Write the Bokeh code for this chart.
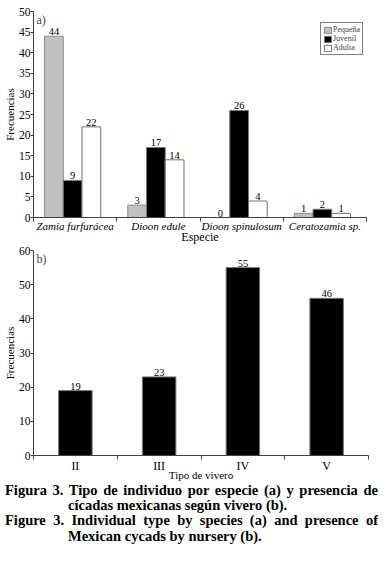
import numpy as np
from bokeh.plotting import figure
from bokeh.models import ColumnDataSource, Range1d, FixedTicker, Legend, LegendItem, Label, Div
from bokeh.layouts import column
from bokeh.embed import file_html
from bokeh.resources import INLINE
from bokeh.core.properties import value

# ---- data (a) ----
species = ["Zamia furfurácea", "Dioon edule", "Dioon spinulosum", "Ceratozamia sp."]
pequena = [44, 3, 0, 1]
juvenil = [9, 17, 26, 2]
adulta = [22, 14, 4, 1]
stage_names = ["Pequeña", "Juvenil", "Adulta"]
a_ticks = [0, 5, 10, 15, 20, 25, 30, 35, 40, 45, 50]

# ---- data (b) ----
nurseries = ["II", "III", "IV", "V"]
nursery_counts = [19, 23, 55, 46]
b_ticks = [0, 10, 20, 30, 40, 50, 60]

caption_es = ("Figura 3. Tipo de individuo por especie (a) y presencia de "
              "cícadas mexicanas según vivero (b).")
caption_en = ("Figure 3. Individual type by species (a) and presence of "
              "Mexican cycads by nursery (b).")

SERIF = "Liberation Serif"
AXIS_COL = "#404040"


def style_axes(p, label_standoff, title_standoff):
    p.xgrid.visible = False
    p.ygrid.visible = False
    p.outline_line_color = None
    p.background_fill_color = "white"
    p.border_fill_color = "white"
    for ax in (p.xaxis[0], p.yaxis[0]):
        ax.axis_line_color = AXIS_COL
        ax.major_tick_line_color = AXIS_COL
        ax.minor_tick_line_color = AXIS_COL
        ax.major_label_text_font = SERIF
        ax.major_label_text_color = "black"
        ax.axis_label_text_font = SERIF
        ax.axis_label_text_font_style = "normal"
        ax.axis_label_text_color = "black"
    xa = p.xaxis[0]
    xa.major_tick_in = 0
    xa.major_tick_out = 0
    xa.minor_tick_in = 0
    xa.minor_tick_out = 4
    xa.major_label_standoff = label_standoff
    xa.axis_label_standoff = title_standoff
    ya = p.yaxis[0]
    ya.major_tick_in = 0
    ya.major_tick_out = 3
    ya.minor_tick_out = 0
    ya.minor_tick_in = 0
    ya.major_label_standoff = 0
    ya.axis_label_standoff = 0
    ya.major_label_text_font_size = "11.5px"
    ya.axis_label_text_font_size = "11px"


# ================= chart (a) =================
centers_a = np.arange(len(species)) + 0.5
pa = figure(output_backend="svg", toolbar_location=None,
            frame_width=333, frame_height=206,
            x_range=Range1d(0, len(species)), y_range=Range1d(0, a_ticks[-1]),
            min_border_left=33, min_border_right=7, min_border_top=11, min_border_bottom=0)
style_axes(pa, -2, -5)

w = 0.225
shift = -0.03
fills = ["#c0c0c0", "black", "white"]
lines = ["#8a8a8a", "#7a7a7a", "#707070"]
items = []
for k, (name, vals) in enumerate(zip(stage_names, [pequena, juvenil, adulta])):
    xs = centers_a + (k - 1) * w + shift
    src = ColumnDataSource(dict(x=xs, top=vals, label=[str(v) for v in vals]))
    r = pa.vbar(x="x", top="top", width=w, bottom=0, fill_color=fills[k],
                line_color=lines[k], line_width=1, source=src)
    pa.text(x="x", y="top", text="label", source=src, text_align="center",
            text_baseline="bottom", y_offset=-1, text_font=value(SERIF),
            text_font_size="10.5px", text_color="black")
    items.append(LegendItem(label=name, renderers=[r]))

legend = Legend(items=items, location=(287, 162), label_text_font=SERIF,
                label_text_font_size="8px", glyph_width=9, glyph_height=8,
                label_height=8, label_standoff=1, spacing=0, padding=2, margin=0,
                border_line_color="black", border_line_width=1.2,
                background_fill_color="white", background_fill_alpha=1.0)
pa.add_layout(legend)

pa.xaxis[0].ticker = FixedTicker(ticks=list(centers_a),
                                 minor_ticks=list(range(len(species) + 1)))
pa.xaxis[0].major_label_overrides = {float(c): s for c, s in zip(centers_a, species)}
pa.xaxis[0].major_label_text_font_style = "italic"
pa.xaxis[0].major_label_text_font_size = "11px"
pa.xaxis[0].axis_label = "Especie"
pa.xaxis[0].axis_label_text_font_size = "12px"
pa.yaxis[0].ticker = FixedTicker(ticks=a_ticks)
pa.yaxis[0].axis_label = "Frecuencias"
pa.add_layout(Label(x=0, y=a_ticks[-1], x_offset=3, y_offset=-1, text="a)",
                    text_baseline="top", text_font=SERIF, text_font_size="12px"))

# ================= chart (b) =================
centers_b = np.arange(len(nurseries)) + 0.5
pb = figure(output_backend="svg", toolbar_location=None,
            frame_width=335, frame_height=205,
            x_range=Range1d(0, len(nurseries)), y_range=Range1d(0, b_ticks[-1]),
            min_border_left=28, min_border_right=9, min_border_top=4, min_border_bottom=0)
style_axes(pb, -1, -7)
srcb = ColumnDataSource(dict(x=centers_b, top=nursery_counts,
                             label=[str(v) for v in nursery_counts]))
pb.vbar(x="x", top="top", width=0.4, bottom=0, fill_color="black",
        line_color="#7a7a7a", line_width=1, source=srcb)
pb.text(x="x", y="top", text="label", source=srcb, text_align="center",
        text_baseline="bottom", y_offset=-1, text_font=value(SERIF),
        text_font_size="10.5px", text_color="black")
pb.xaxis[0].ticker = FixedTicker(ticks=list(centers_b),
                                 minor_ticks=list(range(len(nurseries) + 1)))
pb.xaxis[0].major_label_overrides = {float(c): s for c, s in zip(centers_b, nurseries)}
pb.xaxis[0].major_label_text_font_size = "12px"
pb.xaxis[0].axis_label = "Tipo de vivero"
pb.xaxis[0].axis_label_text_font_size = "11px"
pb.yaxis[0].ticker = FixedTicker(ticks=b_ticks)
pb.yaxis[0].axis_label = "Frecuencias"
pb.add_layout(Label(x=0, y=b_ticks[-1], x_offset=3, y_offset=-1, text="b)",
                    text_baseline="top", text_font=SERIF, text_font_size="12px"))

# ================= caption =================
pstyle = "margin:0;padding-left:63px;text-indent:-63px;"
html = (f'<div style="font-family:\'{SERIF}\',serif;font-weight:bold;font-size:14.5px;'
        f'line-height:15.2px;text-align:justify;width:373px;color:#000;margin-top:-5px;">'
        f'<p style="{pstyle}">{caption_es}</p>'
        f'<p style="{pstyle}">{caption_en}</p></div>')
cap = Div(text=html, width=373)

layout = column(pa, pb, cap, spacing=0)
open("out.html", "w").write(file_html(layout, INLINE))
